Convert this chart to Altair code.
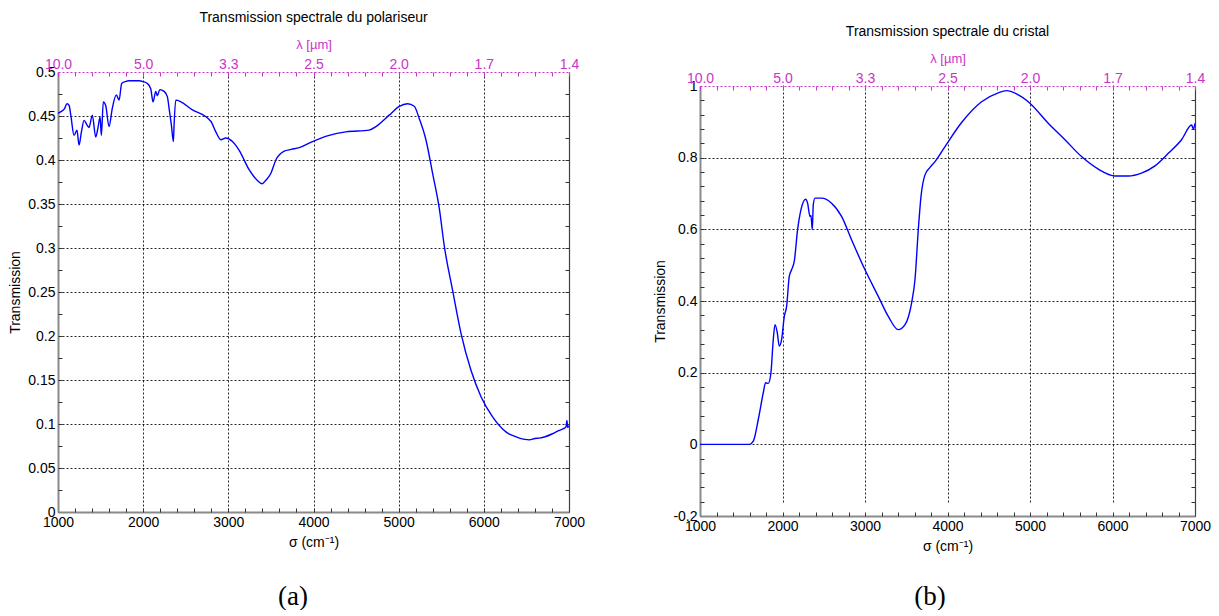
import altair as alt
import pandas as pd

# ---- data ----
sigma_a = [1000, 1035, 1075, 1106, 1130, 1153, 1188, 1223, 1247, 1275, 1306, 1340, 1364, 1403,
           1443, 1470, 1494, 1509, 1532, 1560, 1599, 1638, 1685, 1717, 1748, 1790, 1834, 1900,
           1952, 2000, 2049, 2089, 2116, 2148, 2167, 2195, 2246, 2284, 2304, 2331, 2355, 2363,
           2383, 2578, 2794, 2853, 2912, 2970, 3048, 3127, 3244, 3338, 3397, 3440, 3500, 3558,
           3656, 3738, 3832, 3988, 4184, 4380, 4654, 4733, 4889, 5007, 5104, 5183, 5242, 5320,
           5398, 5477, 5536, 5633, 5732, 5849, 5967, 6103, 6260, 6300, 6350, 6417, 6480, 6534,
           6600, 6652, 6720, 6808, 6880, 6940, 6966, 6975, 6985, 7000]
trans_a = [0.453, 0.455, 0.458, 0.464, 0.462, 0.449, 0.428, 0.434, 0.417, 0.432, 0.445, 0.440,
           0.437, 0.451, 0.426, 0.437, 0.449, 0.428, 0.466, 0.462, 0.438, 0.459, 0.474, 0.468,
           0.487, 0.489, 0.490, 0.490, 0.490, 0.489, 0.487, 0.481, 0.466, 0.478, 0.473, 0.480,
           0.478, 0.472, 0.459, 0.440, 0.421, 0.440, 0.468, 0.457, 0.444, 0.432, 0.423, 0.425,
           0.421, 0.411, 0.389, 0.377, 0.373, 0.377, 0.385, 0.400, 0.410, 0.412, 0.414, 0.421,
           0.428, 0.432, 0.434, 0.438, 0.451, 0.461, 0.464, 0.461, 0.447, 0.423, 0.385, 0.345,
           0.302, 0.252, 0.203, 0.161, 0.131, 0.108, 0.091, 0.0885, 0.0865, 0.084, 0.0825, 0.082,
           0.0835, 0.084, 0.0855, 0.089, 0.0925, 0.095, 0.097, 0.104, 0.096, 0.098]

sigma_b = [1000, 1600, 1646, 1707, 1767, 1795, 1828, 1860, 1888, 1909, 1937, 1961, 1989, 2022,
           2050, 2082, 2110, 2143, 2183, 2224, 2280, 2304, 2333, 2345, 2361, 2373, 2394, 2474,
           2595, 2716, 2837, 3000, 3161, 3282, 3403, 3485, 3565, 3606, 3646, 3679, 3727, 3788,
           3848, 3970, 4171, 4413, 4615, 4716, 4837, 4999, 5221, 5424, 5625, 5828, 6030, 6191,
           6352, 6515, 6676, 6837, 6959, 6980, 7000]
trans_b = [0.0, 0.0, 0.009, 0.070, 0.144, 0.172, 0.170, 0.200, 0.292, 0.334, 0.311, 0.274,
           0.292, 0.357, 0.385, 0.469, 0.487, 0.511, 0.599, 0.655, 0.684, 0.673, 0.636, 0.639,
           0.599, 0.669, 0.687, 0.687, 0.673, 0.636, 0.571, 0.487, 0.413, 0.357, 0.320, 0.334,
           0.395, 0.460, 0.599, 0.692, 0.752, 0.773, 0.789, 0.831, 0.898, 0.956, 0.981, 0.987,
           0.978, 0.952, 0.896, 0.850, 0.803, 0.768, 0.749, 0.749, 0.757, 0.777, 0.812, 0.850,
           0.891, 0.880, 0.896]

x_ticks = [1000, 2000, 3000, 4000, 5000, 6000, 7000]
x_minor = [1000, 1200, 1400, 1600, 1800, 2000, 2200, 2400, 2600, 2800, 3000, 3200, 3400, 3600,
           3800, 4000, 4200, 4400, 4600, 4800, 5000, 5200, 5400, 5600, 5800, 6000, 6200, 6400,
           6600, 6800, 7000]
y_ticks_a = [0, 0.05, 0.1, 0.15, 0.2, 0.25, 0.3, 0.35, 0.4, 0.45, 0.5]
y_minor_a = [0.025, 0.05, 0.075, 0.1, 0.125, 0.15, 0.175, 0.2, 0.225, 0.25, 0.275, 0.3, 0.325,
             0.35, 0.375, 0.4, 0.425, 0.45, 0.475]
y_ticks_b = [-0.2, 0, 0.2, 0.4, 0.6, 0.8, 1]
y_minor_b = [-0.16, -0.12, -0.08, -0.04, 0, 0.04, 0.08, 0.12, 0.16, 0.2, 0.24, 0.28, 0.32, 0.36,
             0.4, 0.44, 0.48, 0.52, 0.56, 0.6, 0.64, 0.68, 0.72, 0.76, 0.8, 0.84, 0.88, 0.92, 0.96]

title_a = "Transmission spectrale du polariseur"
title_b = "Transmission spectrale du cristal"

MAG = "#C934C9"
FONT = "Liberation Sans"
TICK = "#333333"
Y_LABEL = "datum.value < 0 ? '-' + format(-datum.value, '~g') : format(datum.value, '~g')"


def panel(sig, tr, ydom, yticks, yminor, title, w, h, top_pad, letter, letter_x, letter_y):
    df = pd.DataFrame({"sigma": sig, "T": tr})
    xs = alt.Scale(domain=[1000, 7000], nice=False, zero=False)
    ys = alt.Scale(domain=ydom, nice=False, zero=False, range=[h, top_pad])
    grid_x_op = {"condition": {"test": "datum.value <= 1000 || datum.value >= 7000", "value": 0},
                 "value": 0.85}
    grid_y_op = {"condition": {"test": f"datum.value >= {ydom[1] - 1e-9}", "value": 0},
                 "value": 0.85}

    main = alt.Chart(df).mark_line(color="#0000FF", strokeWidth=1.4, interpolate="monotone").encode(
        x=alt.X("sigma:Q", scale=xs, axis=alt.Axis(
            orient="bottom", values=x_ticks, format="d", title="σ (cm⁻¹)",
            grid=True, gridColor="#000000", gridDash=[2, 2], gridOpacity=grid_x_op, gridWidth=1,
            tickSize=0, domainColor="#8a8a8a", domainWidth=2,
            labelFontSize=14, labelColor="#000000", labelPadding=3, labelFlush=False,
            labelOverlap=False, titleFontSize=14, titleFontWeight="normal",
            titleColor="#000000", titlePadding=6)),
        y=alt.Y("T:Q", scale=ys, axis=alt.Axis(
            orient="left", values=yticks, labelExpr=Y_LABEL, title="Transmission",
            grid=True, gridColor="#000000", gridDash=[2, 2], gridOpacity=grid_y_op, gridWidth=1,
            tickSize=0, domainColor="#8a8a8a", domainWidth=2,
            labelFontSize=14, labelColor="#000000", labelPadding=3, labelFlush=False,
            labelOverlap=False, titleFontSize=14, titleFontWeight="normal",
            titleColor="#000000", titlePadding=5)),
    )

    top = alt.Chart(df).mark_line(opacity=0).encode(
        x=alt.X("sigma:Q", scale=xs, axis=alt.Axis(
            orient="top", offset=-top_pad, values=x_ticks, zindex=2,
            labelExpr="format(10000 / datum.value, '.1f')",
            title="λ  [µm]", titleColor=MAG, labelColor=MAG, domainColor=MAG,
            domainDash=[2, 2], domainWidth=1.2, tickSize=0, grid=False,
            labelFontSize=14, labelPadding=1, labelFlush=False, labelOverlap=False,
            titleFontSize=13, titleFontWeight="normal", titlePadding=6)),
        y=alt.Y("T:Q", scale=ys, axis=alt.Axis(
            orient="right", labels=False, ticks=False, title=None, grid=False,
            domainColor="#404040", domainWidth=1.2)),
    )

    ticks_in1 = alt.Chart(df).mark_line(opacity=0).encode(
        x=alt.X("sigma:Q", scale=xs, axis=alt.Axis(
            orient="top", offset=-h, values=x_minor, labels=False, domain=False, grid=False,
            tickSize=4, tickColor=TICK, title=None)),
        y=alt.Y("T:Q", scale=ys, axis=alt.Axis(
            orient="right", offset=-w, values=yminor, labels=False, domain=False, grid=False,
            tickSize=4, tickColor=TICK, title=None)),
    )

    ticks_in2 = alt.Chart(df).mark_line(opacity=0).encode(
        x=alt.X("sigma:Q", scale=xs, axis=alt.Axis(
            orient="bottom", offset=-(h - top_pad), values=x_minor, labels=False, domain=False,
            grid=False, tickSize=4, tickColor=MAG, title=None, zindex=2)),
        y=alt.Y("T:Q", scale=ys, axis=alt.Axis(
            orient="left", offset=-w, values=yminor, labels=False, domain=False, grid=False,
            tickSize=4, tickColor=TICK, title=None)),
    )

    lab = alt.Chart(pd.DataFrame({"t": [letter]})).mark_text(
        font="Liberation Serif", fontSize=27, baseline="middle", align="center",
        color="#000000").encode(text="t:N", x=alt.value(letter_x), y=alt.value(letter_y))

    layers = [main, top, ticks_in1, ticks_in2, lab]
    if top_pad > 0:
        # white band that hides the grid above the top frame of the shifted plot
        mask = alt.Chart(pd.DataFrame({"t": [0]})).mark_rect(color="white").encode(
            x=alt.value(0), x2=alt.value(w), y=alt.value(-1), y2=alt.value(top_pad - 0.5))
        layers.append(mask)

    return alt.layer(*layers).resolve_axis(
        x="independent", y="independent").properties(
        width=w, height=h,
        title=alt.TitleParams(title, fontSize=14, fontWeight="normal", font=FONT,
                              color="#000000", offset=13, anchor="middle"))


left = panel(sigma_a, trans_a, [0, 0.5], y_ticks_a, y_minor_a, title_a,
             511, 440, 0, "(a)", 235, 525)
right = panel(sigma_b, trans_b, [-0.2, 1], y_ticks_b, y_minor_b, title_b,
              495, 444, 14, "(b)", 230, 525)

chart = alt.hconcat(left, right, spacing=68,
                    padding={"left": 0, "top": 3, "right": 0, "bottom": 0}).configure_view(
    stroke=None).configure_axis(labelFont=FONT, titleFont=FONT).configure_title(font=FONT)

chart.save("out.html", embed_options={"renderer": "svg", "actions": False})
